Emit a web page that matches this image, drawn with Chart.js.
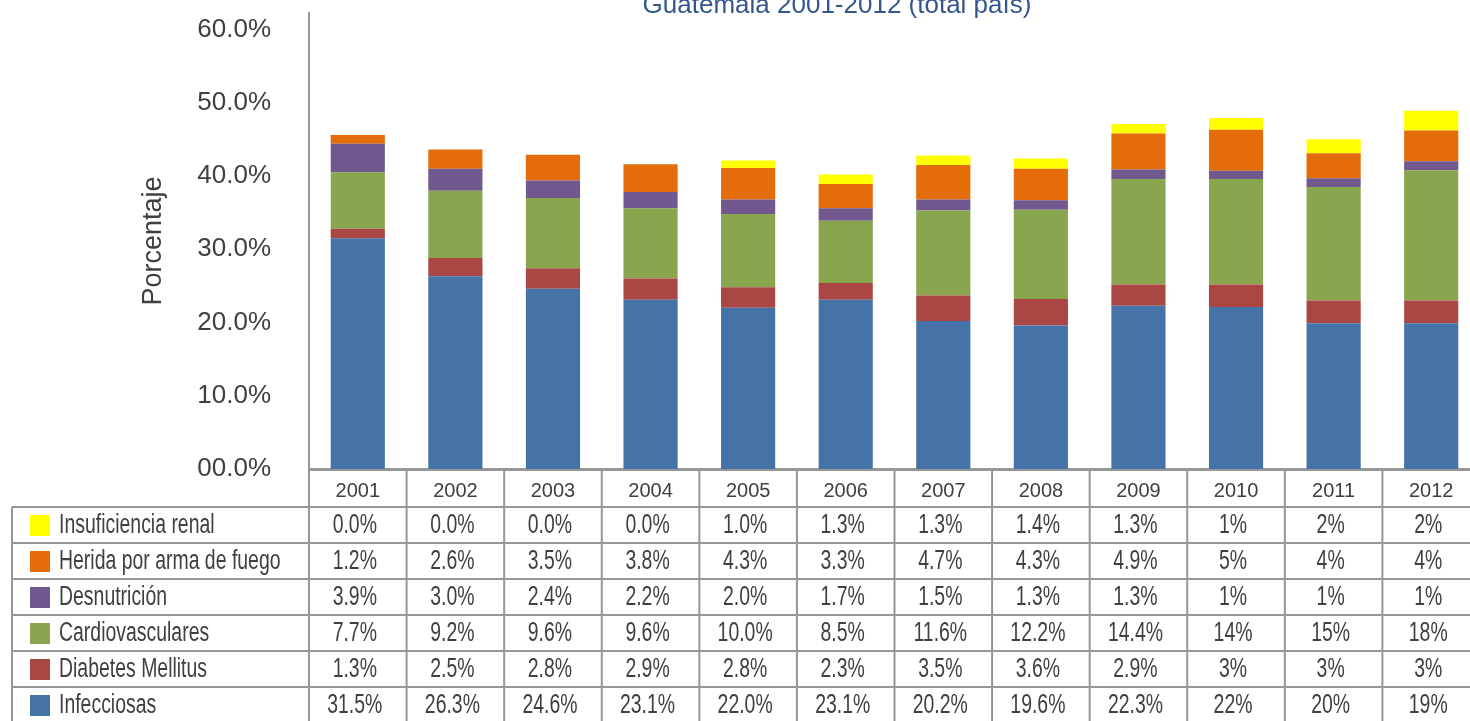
<!DOCTYPE html>
<html><head><meta charset="utf-8">
<script src="https://cdn.jsdelivr.net/npm/chart.js@4"></script>
<style>
html,body{margin:0;padding:0;background:#fff;overflow:hidden;width:1470px;height:721px}
#wrap{position:absolute;left:0;top:0;width:1482px;height:721px}
</style>
</head><body>
<div id="wrap"><canvas id="c" width="1482" height="721"></canvas></div>
<script>
const categories = ['2001','2002','2003','2004','2005','2006','2007','2008','2009','2010','2011','2012'];
const yTicks = [0,10,20,30,40,50,60];

const infecciosas  = [31.5,26.3,24.6,23.1,22.0,23.1,20.2,19.6,22.3,22.1,19.9,19.9];
const diabetes     = [1.3,2.5,2.8,2.9,2.8,2.3,3.5,3.6,2.9,3.1,3.1,3.1];
const cardio       = [7.7,9.2,9.6,9.6,10.0,8.5,11.6,12.2,14.4,14.4,15.5,17.8];
const desnutricion = [3.9,3.0,2.4,2.2,2.0,1.7,1.5,1.3,1.3,1.1,1.2,1.2];
const herida       = [1.2,2.6,3.5,3.8,4.3,3.3,4.7,4.3,4.9,5.6,3.4,4.2];
const renal        = [0.0,0.0,0.0,0.0,1.0,1.3,1.3,1.4,1.3,1.6,1.9,2.7];

const renalLbl   = ['0.0%','0.0%','0.0%','0.0%','1.0%','1.3%','1.3%','1.4%','1.3%','1%','2%','2%'];
const heridaLbl  = ['1.2%','2.6%','3.5%','3.8%','4.3%','3.3%','4.7%','4.3%','4.9%','5%','4%','4%'];
const desnLbl    = ['3.9%','3.0%','2.4%','2.2%','2.0%','1.7%','1.5%','1.3%','1.3%','1%','1%','1%'];
const cardioLbl  = ['7.7%','9.2%','9.6%','9.6%','10.0%','8.5%','11.6%','12.2%','14.4%','14%','15%','18%'];
const diabLbl    = ['1.3%','2.5%','2.8%','2.9%','2.8%','2.3%','3.5%','3.6%','2.9%','3%','3%','3%'];
const infLbl     = ['31.5%','26.3%','24.6%','23.1%','22.0%','23.1%','20.2%','19.6%','22.3%','22%','20%','19%'];

const seriesNames = ['Infecciosas','Diabetes Mellitus','Cardiovasculares','Desnutrición','Herida por arma de fuego','Insuficiencia renal'];
const colors = ['#4572A7','#AA4643','#89A54E','#71588F','#E46C0A','#FFFF00'];
const titleText = 'Guatemala 2001-2012 (total país)';
const yTitle = 'Porcentaje';

const TXT = '#404040';
const LINE = '#979797';

const seriesData = [infecciosas, diabetes, cardio, desnutricion, herida, renal];
const tableRows = [
  {name: seriesNames[5], color: colors[5], labels: renalLbl},
  {name: seriesNames[4], color: colors[4], labels: heridaLbl},
  {name: seriesNames[3], color: colors[3], labels: desnLbl},
  {name: seriesNames[2], color: colors[2], labels: cardioLbl},
  {name: seriesNames[1], color: colors[1], labels: diabLbl},
  {name: seriesNames[0], color: colors[0], labels: infLbl}
];

function condText(ctx, text, x, y, align, size, sx){
  ctx.save();
  ctx.translate(x, y);
  ctx.scale(sx, 1);
  ctx.font = size + 'px "Liberation Sans", Arial, sans-serif';
  ctx.textAlign = align;
  ctx.textBaseline = 'middle';
  ctx.fillStyle = TXT;
  ctx.fillText(text, 0, 0);
  ctx.restore();
}

const tablePlugin = {
  id: 'dataTable',
  afterDraw(chart){
    const ctx = chart.ctx, xs = chart.scales.x, ca = chart.chartArea;
    const n = categories.length;
    const rowTop = 507, rowH = 36, left = 12;
    const bottom = rowTop + tableRows.length * rowH;
    ctx.save();
    ctx.strokeStyle = LINE;
    ctx.lineWidth = 2;
    ctx.beginPath();
    for (let r = 0; r <= tableRows.length; r++){
      const y = rowTop + r * rowH;
      ctx.moveTo(left, y); ctx.lineTo(ca.right, y);
    }
    ctx.moveTo(left, rowTop); ctx.lineTo(left, bottom);
    for (let i = 0; i <= n; i++){
      const x = xs.getPixelForValue(i - 0.5);
      ctx.moveTo(x, ca.bottom); ctx.lineTo(x, bottom);
    }
    ctx.stroke();
    tableRows.forEach((row, r) => {
      const yc = rowTop + r * rowH + rowH / 2;
      ctx.fillStyle = row.color;
      ctx.fillRect(30, yc - 10, 20, 21);
      condText(ctx, row.name, 59, yc + 1, 'left', 27, 0.72);
      row.labels.forEach((lbl, i) => {
        condText(ctx, lbl, xs.getPixelForValue(i) - 3, yc + 1, 'center', 27, 0.72);
      });
    });
    // title (second line, partly cut at the top)
    ctx.font = '26px "Liberation Sans", Arial, sans-serif';
    ctx.fillStyle = '#35568C';
    ctx.textAlign = 'center';
    ctx.textBaseline = 'alphabetic';
    ctx.fillText(titleText, 837, 13);
    ctx.restore();
  }
};

new Chart(document.getElementById('c'), {
  type: 'bar',
  data: {
    labels: categories,
    datasets: seriesData.map((d, k) => ({
      label: seriesNames[k],
      data: d,
      backgroundColor: colors[k],
      borderWidth: 0,
      barPercentage: 0.555,
      categoryPercentage: 1.0
    }))
  },
  options: {
    responsive: false,
    animation: false,
    devicePixelRatio: 1,
    layout: {padding: {top: 13, right: 2, bottom: 0, left: 0}},
    plugins: {legend: {display: false}, tooltip: {enabled: false}, title: {display: false}},
    scales: {
      x: {
        stacked: true,
        afterFit(scale){ scale.height = 721 - 469; scale.paddingLeft = 0; scale.paddingRight = 0; },
        grid: {display: false, drawTicks: false},
        border: {display: true, color: LINE, width: 3},
        ticks: {color: TXT, font: {family: '"Liberation Sans", Arial', size: 20}, padding: 10, maxRotation: 0, autoSkip: false}
      },
      y: {
        stacked: true,
        min: 0,
        max: 62.25,
        afterFit(scale){ scale.width = 309; scale.paddingTop = 0; scale.paddingBottom = 0; },
        afterBuildTicks(scale){ scale.ticks = yTicks.map(v => ({value: v})); },
        grid: {display: false, drawTicks: false},
        border: {display: true, color: LINE, width: 2},
        ticks: {
          color: TXT,
          padding: 38,
          font: {family: '"Liberation Sans", Arial', size: 26},
          callback: v => v === 0 ? '00.0%' : v.toFixed(1) + '%'
        },
        title: {
          display: true,
          text: yTitle,
          color: TXT,
          font: {family: '"Liberation Sans", Arial', size: 27},
          padding: {top: 137, bottom: 0}
        }
      }
    }
  },
  plugins: [tablePlugin]
});
</script>
</body></html>
